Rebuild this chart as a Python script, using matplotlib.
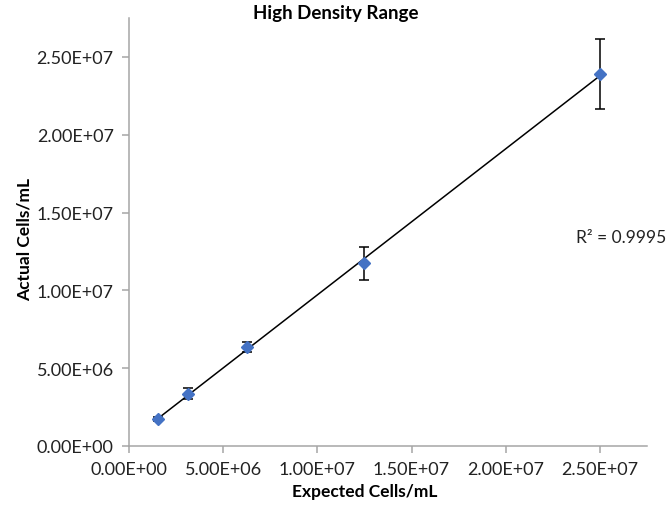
import numpy as np
from matplotlib import pyplot as plt
from matplotlib.ticker import FuncFormatter

# podatki
expected = [1.5625e6, 3.125e6, 6.25e6, 1.25e7, 2.5e7]
actual = [1.74e6, 3.35e6, 6.36e6, 1.173e7, 2.39e7]
errors = [1.2e5, 3.6e5, 3.2e5, 1.04e6, 2.25e6]
x_ticks = [0, 5e6, 1e7, 1.5e7, 2e7, 2.5e7]
y_ticks = [0, 5e6, 1e7, 1.5e7, 2e7, 2.5e7]
r2_text = 'R² = 0.9995'

plt.rcParams['font.family'] = ['Lato', 'DejaVu Sans']


def sci_fmt(v, pos):
    return f'{v:.2E}'


fig = plt.figure(figsize=(6.71, 5.06), dpi=100)
ax = fig.add_axes([129 / 671, 1 - 447 / 506, (647 - 129) / 671, (447 - 19) / 506])

# trendline
k, n = np.polyfit(expected, actual, 1)
xs = np.array([expected[0], expected[-1]])
ax.plot(xs, k * xs + n, color='black', lw=1.1, zorder=2)

ax.errorbar(expected, actual, yerr=errors, fmt='D', color='#4472C4', ms=6.5,
            ecolor='black', elinewidth=1.1, capsize=3.5, capthick=1.1, zorder=3)

ax.set_xlim(0, 2.75e7)
ax.set_ylim(0, 2.75e7)
ax.set_xticks(x_ticks)
ax.set_yticks(y_ticks)
ax.xaxis.set_major_formatter(FuncFormatter(sci_fmt))
ax.yaxis.set_major_formatter(FuncFormatter(sci_fmt))

for s in ['top', 'right']:
    ax.spines[s].set_visible(False)
for s in ['left', 'bottom']:
    ax.spines[s].set_color('#a6a6a6')
    ax.spines[s].set_linewidth(1.1)
ax.tick_params(direction='out', length=5, width=1.1, color='#a6a6a6',
               labelsize=13, labelcolor='#222222', pad=6)

fig.text(0.5, 1 - 14 / 506, 'High Density Range', ha='center', va='center',
         fontsize=13.5, fontweight='bold')
fig.text(365 / 671, 1 - 492 / 506, 'Expected Cells/mL', ha='center', va='center',
         fontsize=12.5, fontweight='bold')
fig.text(25 / 671, 1 - 240 / 506, 'Actual Cells/mL', ha='center', va='center',
         rotation=90, fontsize=12.5, fontweight='bold')
fig.text(576 / 671, 1 - 238 / 506, r2_text, ha='left', va='center',
         fontsize=12.5, color='#222222')

fig.savefig('out.png', dpi=100)
